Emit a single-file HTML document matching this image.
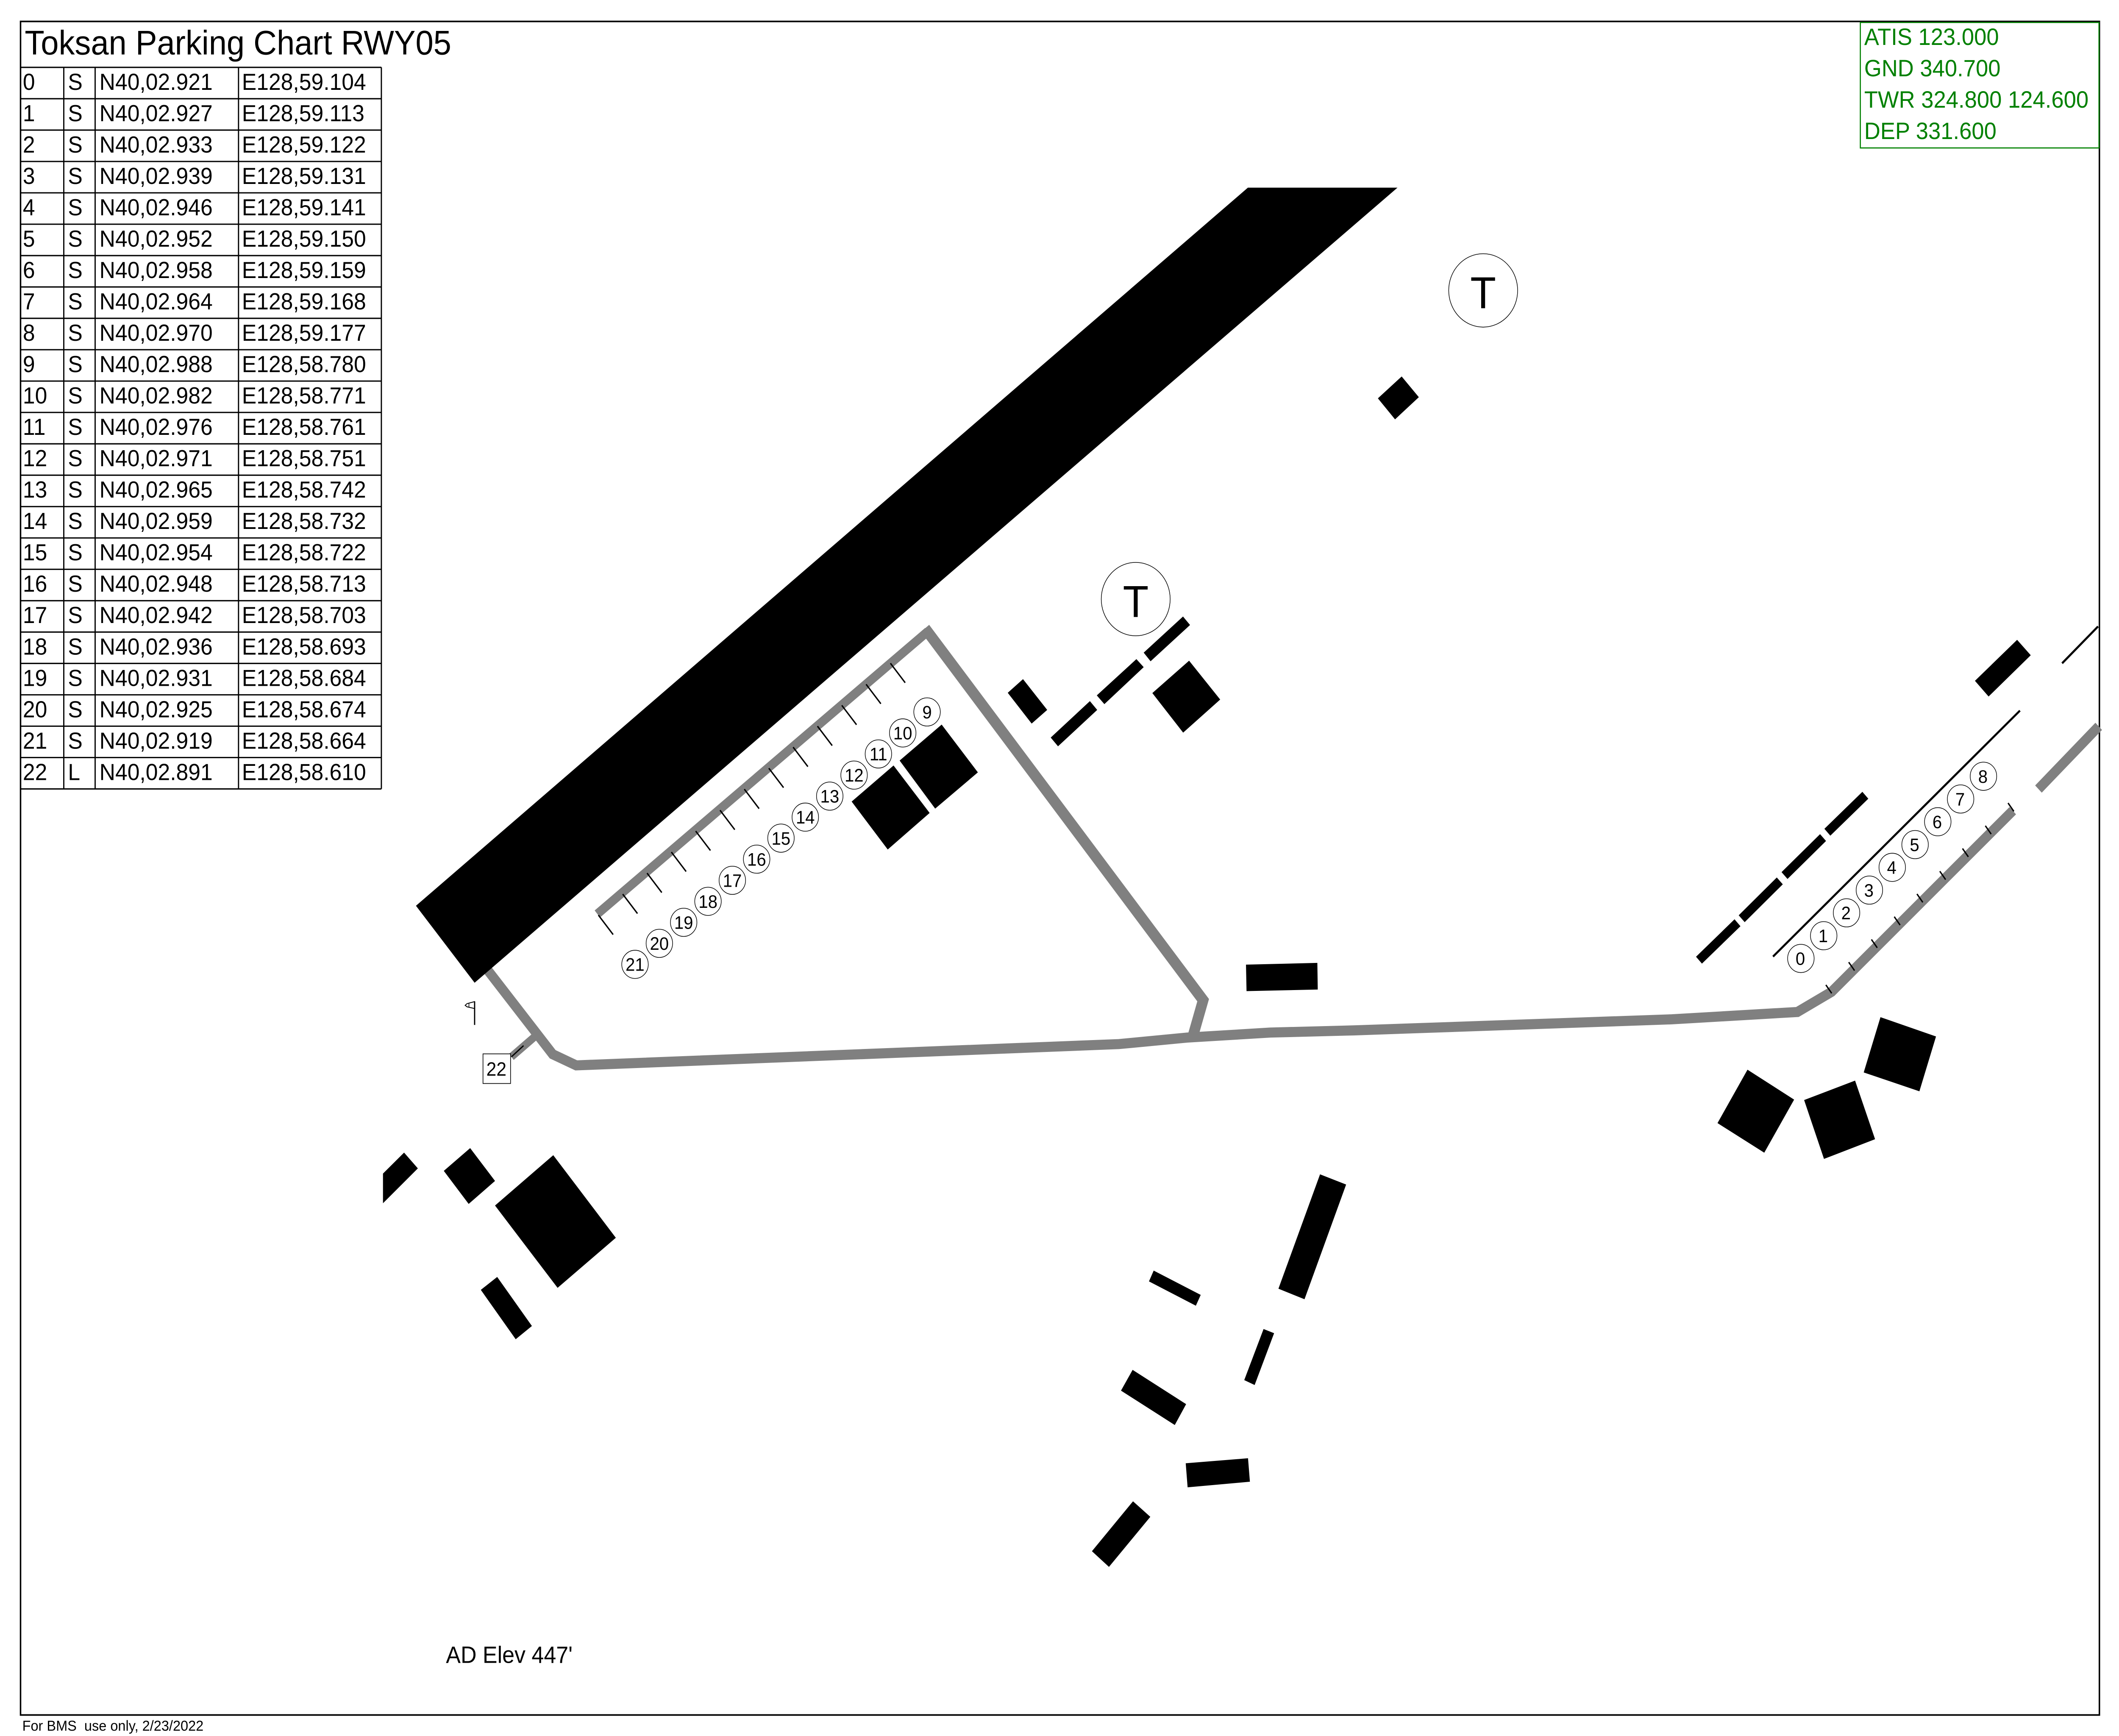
<!DOCTYPE html>
<html>
<head>
<meta charset="utf-8">
<style>
html,body{margin:0;padding:0;background:#fff;width:100%;height:100%;overflow:hidden;}
svg{display:block;width:100vw;height:100vh;}
</style>
</head>
<body>
<svg xmlns="http://www.w3.org/2000/svg" viewBox="0 0 1568 1206.3" preserveAspectRatio="none">
<rect x="0" y="0" width="1568" height="1206.3" fill="#fff"/>

<!-- outer border -->
<rect x="15.2" y="14.9" width="1538.3" height="1176.8" fill="none" stroke="#000" stroke-width="1.1"/>

<!-- gray taxiways -->
<g fill="none" stroke="#808080" stroke-linejoin="miter" stroke-miterlimit="6">
  <polyline stroke-width="7" points="355,667 409,732.6 426.4,740.3 828,725.5 878.4,721 940,717.5 1001.5,716 1237.1,708.3 1330,703.2 1355.3,689.2 1489.4,563.3"/>
  <line stroke-width="7" x1="1508.4" y1="548.3" x2="1553" y2="504.7"/>
  <line stroke-width="5.5" x1="397.6" y1="718.8" x2="378.4" y2="734.4"/>
  <line stroke-width="6.3" x1="442" y1="635.1" x2="686.5" y2="438.8"/>
  <polyline stroke-width="7.8" points="684.5,436.6 890.3,695 882.7,720"/>
</g>

<!-- runway -->
<polygon fill="#000" points="923.4,130.4 1034.1,130.4 351.2,682.9 307.8,629.4"/>

<!-- buildings -->
<g fill="#000">
  <polygon points="1019.6,276.8 1037.2,261.6 1049.9,276 1032.3,291.4"/>
  <polygon points="745.7,481.4 757,471.9 774.9,493.3 763.4,502.8"/>
  <polygon points="777.5,512.5 806.5,487.2 811.9,493.3 782.9,518.6"/>
  <polygon points="811.6,483.2 840.9,458 846.3,463.6 817.2,489.3"/>
  <polygon points="846.3,453.5 875.4,428.4 880.6,434.3 851.4,459.5"/>
  <polygon points="852.7,481.6 879.9,459.1 902.9,486.1 875.5,509.1"/>
  <polygon points="922,670.3 974.8,669.1 975.1,687.6 922.4,688.7"/>
  <polygon points="665.7,528.5 696.8,503.5 723.6,536.7 692,561.9"/>
  <polygon points="630.2,557 661.2,531.9 687.9,564.9 656.9,590.3"/>
  <polygon points="1461.4,473.1 1492.6,444.6 1502.7,455.3 1471.5,484"/>
  <polygon points="1293.1,743.3 1327.6,764.1 1305.5,801 1270.9,780.4"/>
  <polygon points="1335,764.4 1372.7,750.9 1387.5,791.6 1349.7,805.3"/>
  <polygon points="1391.5,706.8 1432.6,720.2 1420.3,758.3 1379.1,745.2"/>
  <polygon points="283.4,815.5 299,800.9 309.2,811.9 283.4,836.1"/>
  <polygon points="328.4,813.6 347.9,797.8 366.3,820.6 346.8,836.6"/>
  <polygon points="366.3,837.7 409.4,802.7 455.7,860.1 412.6,894.9"/>
  <polygon points="355.8,896.3 367.9,887.3 393.6,921.4 381.6,930.6"/>
  <polygon points="946,895.5 976.8,816 996.1,823.1 965.3,902.8"/>
  <polygon points="850.2,890.4 853.7,882.9 888.5,899.8 884.9,907.3"/>
  <polygon points="920.7,959 935,923.5 942.8,926.4 928.4,962.4"/>
  <polygon points="829.5,966.3 838.1,951.9 877.7,975.7 869.3,990.2"/>
  <polygon points="877.4,1016.8 923.5,1013.3 924.9,1029.6 878.8,1033.5"/>
  <polygon points="808,1077.9 838.4,1043.2 851.2,1054 820.6,1088.8"/>
</g>

<!-- black dashes near stands 0-8 -->
<g stroke="#000" stroke-width="6.5" stroke-linecap="butt">
  <line x1="1257.2" y1="667.2" x2="1285.7" y2="641.2"/>
  <line x1="1288.8" y1="638.4" x2="1317" y2="612.1"/>
  <line x1="1320.5" y1="608.4" x2="1349" y2="582"/>
  <line x1="1352.2" y1="578.3" x2="1380.3" y2="552.6"/>
</g>
<g stroke="#000" stroke-width="1.5">
  <line x1="1312" y1="664.7" x2="1494.7" y2="493.8"/>
  <line x1="1525.9" y1="460.9" x2="1552.5" y2="435.3"/>
</g>

<!-- ticks -->
<g stroke="#000" stroke-width="1">
  <line x1="658.9" y1="460.9" x2="669.8" y2="474.4"/>
  <line x1="640.9" y1="475.5" x2="651.8" y2="489.0"/>
  <line x1="622.9" y1="490.1" x2="633.8" y2="503.6"/>
  <line x1="604.9" y1="504.6" x2="615.8" y2="518.1"/>
  <line x1="586.9" y1="519.2" x2="597.8" y2="532.7"/>
  <line x1="568.9" y1="533.8" x2="579.8" y2="547.3"/>
  <line x1="550.8" y1="548.4" x2="561.7" y2="561.9"/>
  <line x1="532.8" y1="563.0" x2="543.7" y2="576.5"/>
  <line x1="514.8" y1="577.5" x2="525.7" y2="591.0"/>
  <line x1="496.8" y1="592.1" x2="507.7" y2="605.6"/>
  <line x1="478.8" y1="606.7" x2="489.7" y2="620.2"/>
  <line x1="460.8" y1="621.3" x2="471.7" y2="634.8"/>
  <line x1="442.8" y1="635.9" x2="453.7" y2="649.4"/>

  <line x1="1351.1" y1="684.4" x2="1355.4" y2="690.2"/>
  <line x1="1368.0" y1="668.6" x2="1372.3" y2="674.4"/>
  <line x1="1384.8" y1="652.8" x2="1389.1" y2="658.6"/>
  <line x1="1401.7" y1="637.0" x2="1406.0" y2="642.8"/>
  <line x1="1418.5" y1="621.2" x2="1422.8" y2="627.0"/>
  <line x1="1435.4" y1="605.4" x2="1439.7" y2="611.2"/>
  <line x1="1452.2" y1="589.6" x2="1456.5" y2="595.4"/>
  <line x1="1469.1" y1="573.8" x2="1473.4" y2="579.6"/>
  <line x1="1485.9" y1="558.0" x2="1490.2" y2="563.8"/>

  <line x1="387.4" y1="726.6" x2="378.4" y2="734.4" stroke-width="0.9"/>
</g>

<!-- windsock -->
<g stroke="#000" stroke-width="0.9" fill="none">
  <line x1="351.2" y1="696" x2="351.2" y2="712.2"/>
  <polygon points="351.2,696 345.6,697.4 344.2,698.6 345.6,699.6 351.2,700.8" stroke-width="0.6"/>
  <line x1="347" y1="697.2" x2="347" y2="700" stroke-width="0.5"/>
</g>

<!-- stand circles -->
<g fill="#fff" stroke="#000" stroke-width="0.45">
  <circle cx="686.0" cy="494.7" r="9.8"/>
  <circle cx="668.0" cy="509.3" r="9.8"/>
  <circle cx="650.0" cy="523.9" r="9.8"/>
  <circle cx="632.0" cy="538.6" r="9.8"/>
  <circle cx="614.0" cy="553.2" r="9.8"/>
  <circle cx="595.9" cy="567.8" r="9.8"/>
  <circle cx="577.9" cy="582.4" r="9.8"/>
  <circle cx="559.9" cy="597.0" r="9.8"/>
  <circle cx="541.9" cy="611.7" r="9.8"/>
  <circle cx="523.9" cy="626.3" r="9.8"/>
  <circle cx="505.9" cy="640.9" r="9.8"/>
  <circle cx="487.9" cy="655.5" r="9.8"/>
  <circle cx="469.9" cy="670.1" r="9.8"/>

  <circle cx="1332.6" cy="666.0" r="9.8"/>
  <circle cx="1349.5" cy="650.2" r="9.8"/>
  <circle cx="1366.4" cy="634.3" r="9.8"/>
  <circle cx="1383.3" cy="618.5" r="9.8"/>
  <circle cx="1400.2" cy="602.7" r="9.8"/>
  <circle cx="1417.1" cy="586.9" r="9.8"/>
  <circle cx="1433.9" cy="571.0" r="9.8"/>
  <circle cx="1450.8" cy="555.2" r="9.8"/>
  <circle cx="1467.7" cy="539.4" r="9.8"/>

  <circle cx="840.4" cy="416.3" r="25.5"/>
  <circle cx="1097.5" cy="201.8" r="25.5"/>
</g>

<!-- stand 22 box -->
<rect x="357.4" y="732.3" width="20.4" height="20.6" fill="#fff" stroke="#000" stroke-width="0.5"/>

<g font-family="'Liberation Sans', Arial, sans-serif" fill="#000">
  <g font-size="12.6" text-anchor="middle">
    <text x="686.0" y="499.2">9</text>
    <text x="668.0" y="513.8">10</text>
    <text x="650.0" y="528.4">11</text>
    <text x="632.0" y="543.1">12</text>
    <text x="614.0" y="557.7">13</text>
    <text x="595.9" y="572.3">14</text>
    <text x="577.9" y="586.9">15</text>
    <text x="559.9" y="601.5">16</text>
    <text x="541.9" y="616.2">17</text>
    <text x="523.9" y="630.8">18</text>
    <text x="505.9" y="645.4">19</text>
    <text x="487.9" y="660.0">20</text>
    <text x="469.9" y="674.6">21</text>

    <text x="1332.2" y="670.5">0</text>
    <text x="1349.1" y="654.7">1</text>
    <text x="1366.0" y="638.8">2</text>
    <text x="1382.9" y="623.0">3</text>
    <text x="1399.8" y="607.2">4</text>
    <text x="1416.7" y="591.4">5</text>
    <text x="1433.5" y="575.5">6</text>
    <text x="1450.4" y="559.7">7</text>
    <text x="1467.3" y="543.9">8</text>
  </g>
  <text x="367.3" y="747.5" font-size="13.4" text-anchor="middle">22</text>
  <text x="840.4" y="428.8" font-size="31.2" text-anchor="middle">T</text>
  <text x="1097.5" y="214.3" font-size="31.2" text-anchor="middle">T</text>

  <!-- title -->
  <text x="18.3" y="37.8" font-size="23.8">Toksan Parking Chart RWY05</text>

  <!-- footer -->
  <text x="330" y="1155.5" font-size="16.3">AD Elev 447'</text>
  <text x="16.5" y="1202.6" font-size="10.2">For BMS&#160; use only, 2/23/2022</text>
</g>

<!-- table -->
<g stroke="#000" stroke-width="0.9" fill="none">
  <line x1="15.2" y1="46.8" x2="282.2" y2="46.8"/>
  <line x1="15.2" y1="68.6" x2="282.2" y2="68.6"/>
  <line x1="15.2" y1="90.4" x2="282.2" y2="90.4"/>
  <line x1="15.2" y1="112.2" x2="282.2" y2="112.2"/>
  <line x1="15.2" y1="134.0" x2="282.2" y2="134.0"/>
  <line x1="15.2" y1="155.8" x2="282.2" y2="155.8"/>
  <line x1="15.2" y1="177.6" x2="282.2" y2="177.6"/>
  <line x1="15.2" y1="199.4" x2="282.2" y2="199.4"/>
  <line x1="15.2" y1="221.2" x2="282.2" y2="221.2"/>
  <line x1="15.2" y1="243.0" x2="282.2" y2="243.0"/>
  <line x1="15.2" y1="264.8" x2="282.2" y2="264.8"/>
  <line x1="15.2" y1="286.6" x2="282.2" y2="286.6"/>
  <line x1="15.2" y1="308.4" x2="282.2" y2="308.4"/>
  <line x1="15.2" y1="330.2" x2="282.2" y2="330.2"/>
  <line x1="15.2" y1="352.0" x2="282.2" y2="352.0"/>
  <line x1="15.2" y1="373.8" x2="282.2" y2="373.8"/>
  <line x1="15.2" y1="395.6" x2="282.2" y2="395.6"/>
  <line x1="15.2" y1="417.4" x2="282.2" y2="417.4"/>
  <line x1="15.2" y1="439.2" x2="282.2" y2="439.2"/>
  <line x1="15.2" y1="461.0" x2="282.2" y2="461.0"/>
  <line x1="15.2" y1="482.8" x2="282.2" y2="482.8"/>
  <line x1="15.2" y1="504.6" x2="282.2" y2="504.6"/>
  <line x1="15.2" y1="526.4" x2="282.2" y2="526.4"/>
  <line x1="15.2" y1="548.2" x2="282.2" y2="548.2"/>
  <line x1="47.2" y1="46.8" x2="47.2" y2="548.2"/>
  <line x1="70.4" y1="46.8" x2="70.4" y2="548.2"/>
  <line x1="176.5" y1="46.8" x2="176.5" y2="548.2"/>
  <line x1="282.2" y1="46.8" x2="282.2" y2="548.2"/>
</g>
<g font-family="'Liberation Sans', Arial, sans-serif" font-size="16.2" fill="#000">
  <text y="62.4"><tspan x="16.9">0</tspan><tspan x="50.3">S</tspan><tspan x="73.6">N40,02.921</tspan><tspan x="179">E128,59.104</tspan></text>
  <text y="84.2"><tspan x="16.9">1</tspan><tspan x="50.3">S</tspan><tspan x="73.6">N40,02.927</tspan><tspan x="179">E128,59.113</tspan></text>
  <text y="106.0"><tspan x="16.9">2</tspan><tspan x="50.3">S</tspan><tspan x="73.6">N40,02.933</tspan><tspan x="179">E128,59.122</tspan></text>
  <text y="127.8"><tspan x="16.9">3</tspan><tspan x="50.3">S</tspan><tspan x="73.6">N40,02.939</tspan><tspan x="179">E128,59.131</tspan></text>
  <text y="149.6"><tspan x="16.9">4</tspan><tspan x="50.3">S</tspan><tspan x="73.6">N40,02.946</tspan><tspan x="179">E128,59.141</tspan></text>
  <text y="171.4"><tspan x="16.9">5</tspan><tspan x="50.3">S</tspan><tspan x="73.6">N40,02.952</tspan><tspan x="179">E128,59.150</tspan></text>
  <text y="193.2"><tspan x="16.9">6</tspan><tspan x="50.3">S</tspan><tspan x="73.6">N40,02.958</tspan><tspan x="179">E128,59.159</tspan></text>
  <text y="215.0"><tspan x="16.9">7</tspan><tspan x="50.3">S</tspan><tspan x="73.6">N40,02.964</tspan><tspan x="179">E128,59.168</tspan></text>
  <text y="236.8"><tspan x="16.9">8</tspan><tspan x="50.3">S</tspan><tspan x="73.6">N40,02.970</tspan><tspan x="179">E128,59.177</tspan></text>
  <text y="258.6"><tspan x="16.9">9</tspan><tspan x="50.3">S</tspan><tspan x="73.6">N40,02.988</tspan><tspan x="179">E128,58.780</tspan></text>
  <text y="280.4"><tspan x="16.9">10</tspan><tspan x="50.3">S</tspan><tspan x="73.6">N40,02.982</tspan><tspan x="179">E128,58.771</tspan></text>
  <text y="302.2"><tspan x="16.9">11</tspan><tspan x="50.3">S</tspan><tspan x="73.6">N40,02.976</tspan><tspan x="179">E128,58.761</tspan></text>
  <text y="324.0"><tspan x="16.9">12</tspan><tspan x="50.3">S</tspan><tspan x="73.6">N40,02.971</tspan><tspan x="179">E128,58.751</tspan></text>
  <text y="345.8"><tspan x="16.9">13</tspan><tspan x="50.3">S</tspan><tspan x="73.6">N40,02.965</tspan><tspan x="179">E128,58.742</tspan></text>
  <text y="367.6"><tspan x="16.9">14</tspan><tspan x="50.3">S</tspan><tspan x="73.6">N40,02.959</tspan><tspan x="179">E128,58.732</tspan></text>
  <text y="389.4"><tspan x="16.9">15</tspan><tspan x="50.3">S</tspan><tspan x="73.6">N40,02.954</tspan><tspan x="179">E128,58.722</tspan></text>
  <text y="411.2"><tspan x="16.9">16</tspan><tspan x="50.3">S</tspan><tspan x="73.6">N40,02.948</tspan><tspan x="179">E128,58.713</tspan></text>
  <text y="433.0"><tspan x="16.9">17</tspan><tspan x="50.3">S</tspan><tspan x="73.6">N40,02.942</tspan><tspan x="179">E128,58.703</tspan></text>
  <text y="454.8"><tspan x="16.9">18</tspan><tspan x="50.3">S</tspan><tspan x="73.6">N40,02.936</tspan><tspan x="179">E128,58.693</tspan></text>
  <text y="476.6"><tspan x="16.9">19</tspan><tspan x="50.3">S</tspan><tspan x="73.6">N40,02.931</tspan><tspan x="179">E128,58.684</tspan></text>
  <text y="498.4"><tspan x="16.9">20</tspan><tspan x="50.3">S</tspan><tspan x="73.6">N40,02.925</tspan><tspan x="179">E128,58.674</tspan></text>
  <text y="520.2"><tspan x="16.9">21</tspan><tspan x="50.3">S</tspan><tspan x="73.6">N40,02.919</tspan><tspan x="179">E128,58.664</tspan></text>
  <text y="542.0"><tspan x="16.9">22</tspan><tspan x="50.3">L</tspan><tspan x="73.6">N40,02.891</tspan><tspan x="179">E128,58.610</tspan></text>
</g>

<!-- frequency box -->
<rect x="1376.6" y="15.6" width="176.6" height="87.2" fill="#fff" stroke="#008000" stroke-width="0.8"/>
<g font-family="'Liberation Sans', Arial, sans-serif" font-size="16.5" fill="#008000">
  <text x="1379.5" y="31.2">ATIS 123.000</text>
  <text x="1379.5" y="53.0">GND 340.700</text>
  <text x="1379.5" y="74.8">TWR 324.800 124.600</text>
  <text x="1379.5" y="96.6">DEP 331.600</text>
</g>
</svg>
</body>
</html>
